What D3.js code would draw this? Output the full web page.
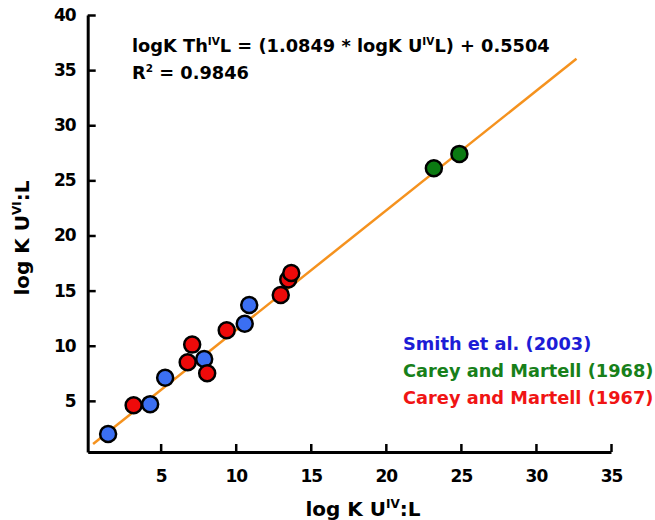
<!DOCTYPE html>
<html>
<head>
<meta charset="utf-8">
<script src="https://cdn.jsdelivr.net/npm/d3@7"></script>
<style>
  body { margin: 0; background: #fff; }
  text { font-family: "DejaVu Sans", sans-serif; font-weight: bold; }
</style>
</head>
<body>
<div id="chart"></div>
<script>
// Data
var smithX = [1.5, 4.3, 5.3, 7.9, 10.6, 10.9];
var smithY = [2.0, 4.7, 7.1, 8.8, 12.0, 13.7];

var carey68X = [23.2, 24.9];
var carey68Y = [26.1, 27.4];

var carey67X = [3.2, 6.8, 7.1, 8.1, 9.4, 13.0, 13.5, 13.7];
var carey67Y = [4.6, 8.5, 10.1, 7.5, 11.4, 14.6, 16.0, 16.6];

var xTicks = [5, 10, 15, 20, 25, 30, 35];
var yTicks = [5, 10, 15, 20, 25, 30, 35, 40];

var slope = 1.0849;
var intercept = 0.5504;
var fitRange = [0.5, 32.7];

var legendNames = ["Smith et al. (2003)", "Carey and Martell (1968)", "Carey and Martell (1967)"];

// Chart parameters
var svgWidth = 655;
var svgHeight = 520;

var svg = d3.select("#chart")
    .append("svg")
    .attr("width", svgWidth)
    .attr("height", svgHeight);

var xScale = d3.scaleLinear().domain([0.14, 35]).range([87.7, 611]);
var yScale = d3.scaleLinear().domain([0.36, 40]).range([452, 15]);

// Axes
var xAxis = svg.append("g")
    .attr("transform", `translate(0, ${yScale(0.36)})`)
    .call(d3.axisBottom(xScale).tickValues(xTicks).tickSizeInner(-8).tickSizeOuter(0).tickPadding(18));

var yAxis = svg.append("g")
    .attr("transform", `translate(${xScale(0.14)}, 0)`)
    .call(d3.axisLeft(yScale).tickValues(yTicks).tickSizeInner(-8).tickSizeOuter(0).tickPadding(12));

[xAxis, yAxis].forEach(function (ax) {
    ax.select(".domain").attr("stroke", "#000").attr("stroke-width", 3);
    ax.selectAll(".tick line").attr("stroke", "#000").attr("stroke-width", 2.5);
    ax.selectAll(".tick text")
        .attr("fill", "#000")
        .attr("font-size", 17)
        .attr("font-family", "Liberation Sans, Arial, sans-serif")
        .attr("font-weight", "bold")
        .attr("letter-spacing", -1);
});

// Fit line
svg.append("line")
    .attr("x1", xScale(fitRange[0]))
    .attr("y1", yScale(slope * fitRange[0] + intercept))
    .attr("x2", xScale(fitRange[1]))
    .attr("y2", yScale(slope * fitRange[1] + intercept))
    .attr("stroke", "#f5921e")
    .attr("stroke-width", 2.5);

// Scatter points
function drawPoints(xs, ys, fill) {
    svg.append("g").selectAll("circle")
        .data(xs.map((x, i) => [x, ys[i]]))
        .enter()
        .append("circle")
        .attr("cx", d => xScale(d[0]))
        .attr("cy", d => yScale(d[1]))
        .attr("r", 8)
        .attr("fill", fill)
        .attr("stroke", "#000")
        .attr("stroke-width", 2.5);
}
drawPoints(smithX, smithY, "#3b6ff2");
drawPoints(carey67X, carey67Y, "#ee0a0a");
drawPoints(carey68X, carey68Y, "#0b7a12");

// Equation
var eq = svg.append("text")
    .attr("x", 132)
    .attr("y", 52)
    .attr("font-size", 17.8);
eq.append("tspan").text("logK Th");
eq.append("tspan").attr("font-size", 10.5).attr("dy", -7).text("IV");
eq.append("tspan").attr("dy", 7).text("L = (1.0849 * logK U");
eq.append("tspan").attr("font-size", 10.5).attr("dy", -7).text("IV");
eq.append("tspan").attr("dy", 7).text("L) + 0.5504");

var r2 = svg.append("text")
    .attr("x", 132)
    .attr("y", 79)
    .attr("font-size", 17.8);
r2.append("tspan").text("R");
r2.append("tspan").attr("font-size", 10.5).attr("dy", -7).text("2");
r2.append("tspan").attr("dy", 7).text(" = 0.9846");

// Axis titles
var xTitle = svg.append("text")
    .attr("x", 363)
    .attr("y", 516)
    .attr("text-anchor", "middle")
    .attr("font-size", 20);
xTitle.append("tspan").text("log K U");
xTitle.append("tspan").attr("font-size", 12).attr("dy", -8).text("IV");
xTitle.append("tspan").attr("dy", 8).text(":L");

var yTitle = svg.append("text")
    .attr("transform", "translate(29, 238) rotate(-90)")
    .attr("text-anchor", "middle")
    .attr("font-size", 20);
yTitle.append("tspan").text("log K U");
yTitle.append("tspan").attr("font-size", 12).attr("dy", -8).text("VI");
yTitle.append("tspan").attr("dy", 8).text(":L");

// Legend
var legendColors = ["#1c1cd6", "#17801a", "#f01414"];
svg.append("g").selectAll("text")
    .data(legendNames)
    .enter()
    .append("text")
    .attr("x", 403)
    .attr("y", (d, i) => 350 + i * 27)
    .attr("font-size", 17.8)
    .attr("fill", (d, i) => legendColors[i])
    .text(d => d);
</script>
</body>
</html>
